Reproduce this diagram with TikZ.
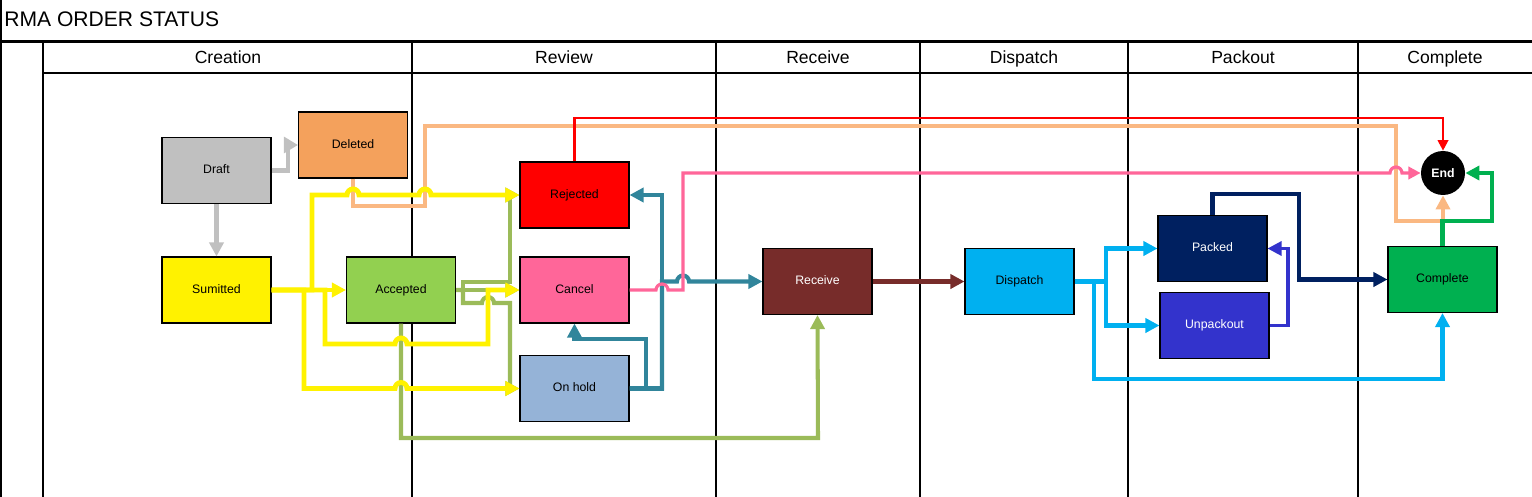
\documentclass[tikz,border=0pt]{standalone}
\usepackage{fontspec}
\setmainfont{Liberation Sans}
\usetikzlibrary{arrows.meta}
\definecolor{cdraft}{RGB}{192,192,192}
\definecolor{cdeleted}{RGB}{244,161,92}
\definecolor{caccepted}{RGB}{146,208,80}
\definecolor{ccancel}{RGB}{255,102,153}
\definecolor{conhold}{RGB}{149,179,215}
\definecolor{creceive}{RGB}{119,44,42}
\definecolor{cdispatch}{RGB}{0,176,240}
\definecolor{cpacked}{RGB}{0,32,96}
\definecolor{cunpack}{RGB}{51,51,204}
\definecolor{ccomplete}{RGB}{0,176,80}
\definecolor{lorange}{RGB}{250,184,130}
\definecolor{lgreen}{RGB}{155,187,89}
\definecolor{lteal}{RGB}{49,133,155}
\definecolor{lpink}{RGB}{255,102,153}
\begin{document}
\begin{tikzpicture}[x=0.02cm,y=-0.02cm,
  box/.style={draw=black,line width=0.6pt,minimum width=2.18cm,minimum height=1.32cm,inner sep=0pt,text height=5.2pt,text depth=1.5pt,font=\fontsize{7}{8.4}\selectfont},
  tip/.style={-{Triangle[length=8pt,width=8pt]}},
  conn/.style={line width=2.3pt,tip},
  hdr/.style={font=\fontsize{10}{12}\selectfont,anchor=base,inner sep=0pt},
  gridline/.style={line width=0.6pt}]
\useasboundingbox (0,0) rectangle (1532,497);
% frame
\draw[gridline] (1,0) -- (1,497);
\draw[line width=1.2pt] (0,41.5) -- (1532,41.5);
\foreach \x in {43,412,716,920,1128,1358} \draw[gridline] (\x,42) -- (\x,497);
\draw[gridline] (43,73) -- (1532,73);
\node[anchor=west,font=\fontsize{12}{14}\selectfont,inner sep=0pt] (title) at (4,19) {RMA ORDER STATUS};
\node[hdr] (h1) at (228,63) {Creation};
\node[hdr] (h2) at (564,63) {Review};
\node[hdr] (h3) at (818,63) {Receive};
\node[hdr] (h4) at (1024,63) {Dispatch};
\node[hdr] (h5) at (1243,63) {Packout};
\node[hdr] (h6) at (1445,63) {Complete};
% nodes
\node[box,fill=cdraft] (draft) at (216.5,170.5) {Draft};
\node[box,fill=cdeleted] (deleted) at (353,145) {Deleted};
\node[box,fill=yellow] (sumitted) at (216.5,290) {Sumitted};
\node[box,fill=caccepted] (accepted) at (401,290) {Accepted};
\node[box,fill=red] (rejected) at (574.5,195) {Rejected};
\node[box,fill=ccancel] (cancel) at (574.5,290) {Cancel};
\node[box,fill=conhold] (onhold) at (574.5,388.5) {On hold};
\node[box,fill=creceive,text=white] (receive) at (817.5,281.5) {Receive};
\node[box,fill=cdispatch] (dispatch) at (1019.5,281.5) {Dispatch};
\node[box,fill=cpacked,text=white] (packed) at (1212.5,248.5) {Packed};
\node[box,fill=cunpack,text=white] (unpackout) at (1214.5,325.5) {Unpackout};
\node[box,fill=ccomplete] (complete) at (1442.5,279.5) {Complete};
\node[circle,fill=black,text=white,minimum size=0.88cm,inner sep=0pt,font=\fontsize{7}{8.4}\selectfont\bfseries] (end) at (1443,173) {End};
% gray
\draw[line width=2.3pt,draw=cdraft,-{Triangle[length=8pt,width=9pt]}] (draft.east) -- (288,170.5) |- (deleted.west);
\draw[conn,draw=cdraft] (draft.south) -- (sumitted.north);
% orange Deleted -> End
\draw[conn,draw=lorange] (deleted.south) -- (353,206) -- (425,206) -- (425,126) -- (1396,126) -- (1396,221) -- (1443,221) -- (end.south);
% red Rejected -> End
\draw[line width=1.2pt,draw=red,-{Triangle[length=6pt,width=6pt]}] (rejected.north) -- (574.5,118) -- (1443,118) -- (end.north);
% green from Accepted
\draw[conn,draw=lgreen] (accepted.east) -- (463,290) -- (463,282) -- (510,282) -- (510,195) -- (rejected.west);
\draw[conn,draw=lgreen] (accepted.east) -- (cancel.west);
\draw[conn,draw=lgreen] (accepted.east) -- (463,290) -- (463,303) -- (482,303) arc[start angle=180,end angle=0,radius=0.12cm] -- (510,303) -- (510,388.5) -- (onhold.west);
\draw[conn,draw=lgreen] (accepted.south) -- (401,438) -- (818,438) -- (receive.south);
% yellow from Sumitted
\draw[line width=2.8pt,draw=yellow,tip] (sumitted.east) -- (accepted.west);
\draw[line width=2.8pt,draw=yellow,tip] (sumitted.east) -- (312,290) -- (312,195) -- (347,195) arc[start angle=180,end angle=0,radius=0.12cm] -- (419,195) arc[start angle=180,end angle=0,radius=0.12cm] -- (rejected.west);
\draw[line width=2.8pt,draw=yellow,tip] (sumitted.east) -- (325,290) -- (325,344) -- (395,344) arc[start angle=180,end angle=0,radius=0.12cm] -- (488,344) -- (488,290) -- (cancel.west);
\draw[line width=2.8pt,draw=yellow,tip] (sumitted.east) -- (304,290) -- (304,388.5) -- (395,388.5) arc[start angle=180,end angle=0,radius=0.12cm] -- (onhold.west);
% teal from On hold
\draw[conn,draw=lteal] (onhold.east) -- (662,388.5) -- (662,195) -- (rejected.east);
\draw[conn,draw=lteal] (onhold.east) -- (646,388.5) -- (646,339) -- (574.5,339) -- (cancel.south);
\draw[conn,draw=lteal] (onhold.east) -- (662,388.5) -- (662,281.5) -- (677,281.5) arc[start angle=180,end angle=0,radius=0.12cm] -- (receive.west);
% pink Cancel -> End
\draw[line width=1.8pt,draw=lpink,-{Triangle[length=7pt,width=7pt]}] (cancel.east) -- (656,290) arc[start angle=180,end angle=0,radius=0.12cm] -- (683,290) -- (683,173) -- (1390,173) arc[start angle=180,end angle=0,radius=0.12cm] -- (end.west);
% brown
\draw[conn,draw=creceive] (receive.east) -- (dispatch.west);
% blue from Dispatch
\draw[conn,draw=cdispatch] (dispatch.east) -- (1106,281.5) -- (1106,248.5) -- (packed.west);
\draw[conn,draw=cdispatch] (dispatch.east) -- (1106,281.5) -- (1106,325.5) -- (unpackout.west);
\draw[conn,draw=cdispatch] (dispatch.east) -- (1094,281.5) -- (1094,379) -- (1442.5,379) -- (complete.south);
% purple
\draw[line width=1.8pt,draw=cunpack,tip] (unpackout.east) -- (1288,325.5) -- (1288,248.5) -- (packed.east);
% navy
\draw[conn,draw=cpacked] (packed.north) -- (1212.5,194) -- (1299,194) -- (1299,279.5) -- (complete.west);
% green Complete -> End
\draw[conn,draw=ccomplete] (complete.north) -- (1442.5,221) -- (1492,221) -- (1492,173) -- (end.east);
\end{tikzpicture}
\end{document}
